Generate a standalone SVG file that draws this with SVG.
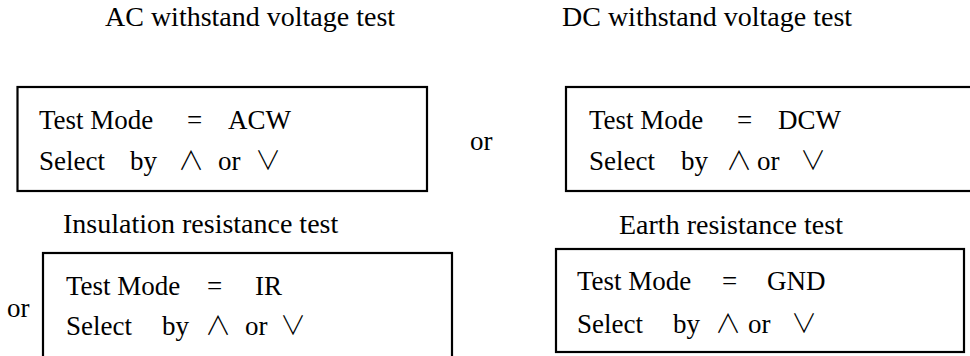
<svg xmlns="http://www.w3.org/2000/svg" width="970" height="356" viewBox="0 0 970 356">
<style>
text{font-family:"Liberation Serif","Times New Roman",serif;fill:#000}
.t{font-size:28px}
.b{font-size:27px}
.s{font-family:"Noto Sans CJK SC","Noto Sans CJK JP",sans-serif;font-weight:300;font-size:26px}
.box{fill:none;stroke:#000;stroke-width:2.2}
</style>
<rect width="970" height="356" fill="#fff"/>
<g id="acw">
<text class="t" x="105" y="26">AC withstand voltage test</text>
<rect class="box" x="17.5" y="87" width="409.5" height="104"/>
<text class="b" y="129"><tspan x="39">Test Mode</tspan><tspan x="187">=</tspan><tspan x="228">ACW</tspan></text>
<text class="b" y="170"><tspan x="39">Select</tspan><tspan x="130">by</tspan><tspan class="s" x="178">∧</tspan><tspan x="218">or</tspan><tspan class="s" x="255">∨</tspan></text>
</g>
<g id="or1"><text class="b" x="470" y="150">or</text></g>
<g id="dcw">
<text class="t" x="562" y="26">DC withstand voltage test</text>
<rect class="box" x="566" y="87" width="420" height="104"/>
<text class="b" y="129"><tspan x="589">Test Mode</tspan><tspan x="737">=</tspan><tspan x="778">DCW</tspan></text>
<text class="b" y="170"><tspan x="589">Select</tspan><tspan x="681">by</tspan><tspan class="s" x="726">∧</tspan><tspan x="757">or</tspan><tspan class="s" x="800">∨</tspan></text>
</g>
<g id="or2"><text class="b" x="7" y="317">or</text></g>
<g id="ir">
<text class="t" x="63" y="233">Insulation resistance test</text>
<rect class="box" x="43" y="253" width="409" height="120"/>
<text class="b" y="295"><tspan x="66">Test Mode</tspan><tspan x="207">=</tspan><tspan x="255">IR</tspan></text>
<text class="b" y="335"><tspan x="66">Select</tspan><tspan x="162">by</tspan><tspan class="s" x="205">∧</tspan><tspan x="245">or</tspan><tspan class="s" x="280">∨</tspan></text>
</g>
<g id="gnd">
<text class="t" x="619" y="234">Earth resistance test</text>
<rect class="box" x="556" y="249" width="408" height="103"/>
<text class="b" y="290"><tspan x="577">Test Mode</tspan><tspan x="722">=</tspan><tspan x="767">GND</tspan></text>
<text class="b" y="333"><tspan x="577">Select</tspan><tspan x="673">by</tspan><tspan class="s" x="715">∧</tspan><tspan x="748">or</tspan><tspan class="s" x="791">∨</tspan></text>
</g>
<g id="connectors"/>
</svg>
